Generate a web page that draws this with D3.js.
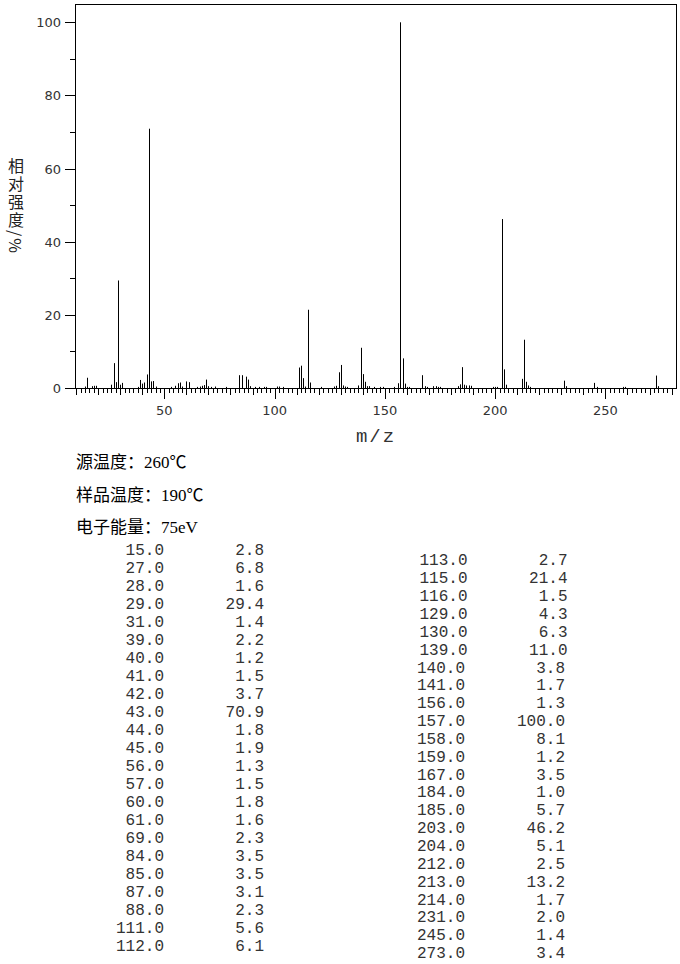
<!DOCTYPE html>
<html><head><meta charset="utf-8">
<script src="https://cdn.jsdelivr.net/npm/d3@7"></script>
<style>body{margin:0;background:#fff}svg{display:block}</style>
</head><body><script>
// Listed peaks (m/z, relative intensity %)
const tableMz = [15,27,28,29,31,39,40,41,42,43,44,45,56,57,60,61,69,84,85,87,88,111,112,
                 113,115,116,129,130,139,140,141,156,157,158,159,167,184,185,203,204,212,213,214,231,245,273];
const tableInt = [2.8,6.8,1.6,29.4,1.4,2.2,1.2,1.5,3.7,70.9,1.8,1.9,1.3,1.5,1.8,1.6,2.3,3.5,3.5,3.1,2.3,5.6,6.1,
                  2.7,21.4,1.5,4.3,6.3,11.0,3.8,1.7,1.3,100.0,8.1,1.2,3.5,1.0,5.7,46.2,5.1,2.5,13.2,1.7,2.0,1.4,3.4];
// Small unlisted peaks visible in the spectrum (estimated)
const minorMz = [14,17,18,19,26,30,38,46,53,55,58,65,66,67,68,70,71,73,78,89,91,93,95,96,101,102,104,114,121,127,128,
                 131,132,133,138,142,143,145,148,149,154,160,161,168,169,172,173,174,175,183,186,187,188,189,199,200,201,
                 205,215,216,232,246,258,259,274];
const minorInt = [0.4,0.5,0.6,0.6,0.9,0.9,0.3,0.4,0.3,0.6,0.4,0.3,0.4,0.6,0.8,0.5,0.3,0.4,0.3,0.5,0.3,0.3,0.3,0.3,0.4,0.4,0.3,0.4,0.3,0.4,0.6,
                  0.7,0.4,0.3,0.7,0.5,0.5,0.3,0.3,0.3,0.3,0.3,0.3,0.5,0.3,0.5,0.5,0.3,0.3,0.5,0.9,0.7,0.7,0.6,0.3,0.3,0.3,
                  0.9,0.7,0.3,0.5,0.3,0.3,0.3,0.5];
const yTicks = [0,20,40,60,80,100];
const xTicks = [50,100,150,200,250];
const yTitle = "相对强度/%";
const xTitle = "m/z";
const headerLines = ["源温度：260℃","样品温度：190℃","电子能量：75eV"];

const W = 680, H = 964;
const svg = d3.select("body").append("svg").attr("width", W).attr("height", H)
  .style("background", "#fff");

const L = 75, R = 676, T = 4, B = 388;
const x = d3.scaleLinear().domain([9.5, 282]).range([L, R]);
const y = d3.scaleLinear().domain([0, 100]).range([B, 22.3]);
const px = v => Math.round(v) + 0.5;

// frame
svg.append("rect").attr("x", L + 0.5).attr("y", T + 0.5).attr("width", R - L).attr("height", B - T)
  .attr("fill", "none").attr("stroke", "#000").attr("stroke-width", 1);

// peaks
const peaks = tableMz.map((m, i) => ({m, v: tableInt[i]}))
  .concat(minorMz.map((m, i) => ({m, v: minorInt[i]})));
svg.append("g").selectAll("line").data(peaks).join("line")
  .attr("x1", d => px(x(d.m))).attr("x2", d => px(x(d.m)))
  .attr("y1", B + 0.5).attr("y2", d => y(d.v))
  .attr("stroke", "#000").attr("stroke-width", 1);

// y axis ticks
const yMinor = d3.range(10, 100, 20);
svg.append("g").selectAll("line").data(yTicks).join("line")
  .attr("x1", L - 10).attr("x2", L).attr("y1", d => px(y(d))).attr("y2", d => px(y(d)))
  .attr("stroke", "#000");
svg.append("g").selectAll("line").data(yMinor).join("line")
  .attr("x1", L - 5).attr("x2", L).attr("y1", d => px(y(d))).attr("y2", d => px(y(d)))
  .attr("stroke", "#000");
svg.append("g").selectAll("text").data(yTicks).join("text")
  .attr("x", 61).attr("y", d => y(d) + 5).attr("text-anchor", "end")
  .attr("font-family", "DejaVu Sans, sans-serif").attr("font-size", 13).attr("fill", "#333")
  .text(d => d);

// x axis ticks
const xAll = d3.range(10, 282, 2);
svg.append("g").selectAll("line").data(xAll).join("line")
  .attr("x1", d => px(x(d))).attr("x2", d => px(x(d)))
  .attr("y1", B).attr("y2", d => d % 50 === 0 ? B + 11 : (d % 10 === 0 ? B + 7 : B + 5))
  .attr("stroke", "#000");
svg.append("g").selectAll("text").data(xTicks).join("text")
  .attr("x", d => x(d)).attr("y", 415).attr("text-anchor", "middle")
  .attr("font-family", "DejaVu Sans, sans-serif").attr("font-size", 13).attr("fill", "#333")
  .text(d => d);

// axis titles
svg.append("text").attr("x", 376).attr("y", 442).attr("text-anchor", "middle")
  .attr("font-family", "Liberation Mono, monospace").attr("font-size", 19).attr("fill", "#333")
  .attr("letter-spacing", 2).text(xTitle);
svg.append("text").attr("x", 16).attr("y", 158)
  .style("writing-mode", "vertical-rl")
  .attr("font-family", "Noto Sans CJK SC, sans-serif").attr("font-size", 16).attr("fill", "#222")
  .attr("letter-spacing", 2).text(yTitle);

// header
svg.append("g").selectAll("text").data(headerLines).join("text")
  .attr("x", 76).attr("y", (d, i) => [468, 501, 533][i])
  .attr("font-family", "Liberation Serif, Noto Sans CJK SC, serif").attr("font-size", 17).attr("fill", "#000")
  .text(d => d);

// table
const fmt = d3.format(".1f");
const rows = tableMz.map((m, i) => ({m, v: tableInt[i], i}));
const leftRows = rows.slice(0, 23), rightRows = rows.slice(23);
const tbl = svg.append("g").attr("font-family", "Liberation Mono, Courier New, monospace")
  .attr("font-size", 16).attr("fill", "#333");
leftRows.forEach((r, k) => {
  const yy = 555 + k * 18;
  tbl.append("text").attr("x", 164).attr("y", yy).attr("text-anchor", "end").text(fmt(r.m));
  tbl.append("text").attr("x", 264).attr("y", yy).attr("text-anchor", "end").text(fmt(r.v));
});
rightRows.forEach((r, k) => {
  const first = k < 6;
  const yy = first ? 565 + k * 18 : 672.5 + (k - 6) * 17.85;
  tbl.append("text").attr("x", first ? 467.5 : 465).attr("y", yy).attr("text-anchor", "end").text(fmt(r.m));
  tbl.append("text").attr("x", first ? 567.5 : 565).attr("y", yy).attr("text-anchor", "end").text(fmt(r.v));
});
</script></body></html>
